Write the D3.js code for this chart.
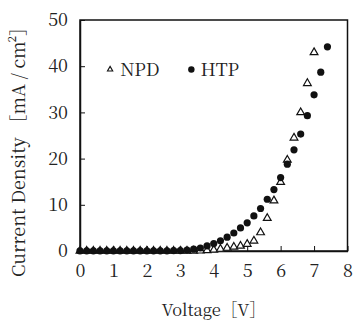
<!DOCTYPE html>
<html>
<head>
<meta charset="utf-8">
<script src="https://cdn.jsdelivr.net/npm/d3@7"></script>
<style>
  body { margin: 0; background: #fff; }
</style>
</head>
<body>
<svg id="chart" width="354" height="321"></svg>
<script>
// voltage steps (V)
const npdVoltage = [0,0.2,0.4,0.6,0.8,1,1.2,1.4,1.6,1.8,2,2.2,2.4,2.6,2.8,3,3.2,3.4,3.6,3.8,4,4.2,4.4,4.6,4.8,5,5.2,5.4,5.6,5.8,6,6.2,6.4,6.6,6.8,7];
const npdCurrent = [0,0,0,0,0,0,0,0,0,0,0,0,0,0,0,0,0.02,0.03,0.05,0.12,0.25,0.43,0.65,0.87,1.1,1.5,2.2,4.0,7.1,10.9,14.9,19.7,24.5,30.0,36.3,43.0];

const htpVoltage = [0,0.2,0.4,0.6,0.8,1,1.2,1.4,1.6,1.8,2,2.2,2.4,2.6,2.8,3,3.2,3.4,3.6,3.8,4,4.2,4.4,4.6,4.8,5,5.2,5.4,5.6,5.8,6,6.2,6.4,6.6,6.8,7,7.2,7.4];
const htpCurrent = [0.02,0.02,0.02,0.02,0.02,0.02,0.02,0.02,0.02,0.02,0.02,0.03,0.03,0.04,0.06,0.1,0.2,0.4,0.65,1.1,1.6,2.2,3.0,3.9,5.0,6.1,7.6,9.2,11.2,13.3,15.9,18.8,21.9,25.3,29.3,33.8,38.7,44.2];

const xTicks = [0,1,2,3,4,5,6,7,8];
const yTicks = [0,10,20,30,40,50];

const serif = "'Noto Serif CJK JP', 'Liberation Serif', 'DejaVu Serif'";

const svg = d3.select("#chart");
const margin = {left: 80, top: 20, right: 6.5, bottom: 70};
const width = 354 - margin.left - margin.right;
const height = 321 - margin.top - margin.bottom;

const g = svg.append("g").attr("transform", `translate(${margin.left},${margin.top})`);

const x = d3.scaleLinear().domain([0, 8]).range([0, width]);
const y = d3.scaleLinear().domain([0, 50]).range([height, 0]);

// frame
g.append("rect")
  .attr("x", 0).attr("y", 0)
  .attr("width", width).attr("height", height)
  .attr("fill", "none").attr("stroke", "#111").attr("stroke-width", 1.5);

// axes, ticks pointing inward
const xAxis = g.append("g")
  .attr("transform", `translate(0,${height})`)
  .call(d3.axisBottom(x).tickValues(xTicks).tickSizeInner(-5).tickSizeOuter(0).tickPadding(13));
const yAxis = g.append("g")
  .call(d3.axisLeft(y).tickValues(yTicks).tickSizeInner(-5).tickSizeOuter(0).tickPadding(12));

[xAxis, yAxis].forEach(a => {
  a.attr("font-family", null).attr("font-size", null);
  a.select(".domain").attr("stroke", "#111").attr("stroke-width", 1.5);
  a.selectAll(".tick line").attr("stroke", "#111").attr("stroke-width", 1);
  a.selectAll(".tick text")
    .style("font-family", serif)
    .style("font-size", "18px").attr("fill", "#222");
});

const npd = npdVoltage.map((v, i) => ({v: v, j: npdCurrent[i]}));
const htp = htpVoltage.map((v, i) => ({v: v, j: htpCurrent[i]}));

const tri = d3.symbol().type(d3.symbolTriangle).size(26);

g.selectAll(".npd")
  .data(npd)
  .enter().append("path")
  .attr("class", "npd")
  .attr("d", tri)
  .attr("transform", d => `translate(${x(d.v)},${y(d.j)})`)
  .attr("fill", "#fff")
  .attr("stroke", "#111")
  .attr("stroke-width", 1.2);

g.selectAll(".htp")
  .data(htp)
  .enter().append("circle")
  .attr("class", "htp")
  .attr("cx", d => x(d.v))
  .attr("cy", d => y(d.j))
  .attr("r", 3.6)
  .attr("fill", "#111");

// legend
const legend = g.append("g").attr("transform", `translate(0,${y(39.3)})`);
legend.append("path")
  .attr("d", d3.symbol().type(d3.symbolTriangle).size(12))
  .attr("transform", `translate(${x(0.9)},0)`)
  .attr("fill", "#fff").attr("stroke", "#111").attr("stroke-width", 1.1);
legend.append("text")
  .attr("x", x(1.2)).attr("y", 6.5)
  .style("font-family", serif).style("font-size", "18px").attr("fill", "#222")
  .text("NPD");
legend.append("circle")
  .attr("cx", x(3.33)).attr("cy", 0).attr("r", 3.2).attr("fill", "#111");
legend.append("text")
  .attr("x", x(3.6)).attr("y", 6.5)
  .style("font-family", serif).style("font-size", "18px").attr("fill", "#222")
  .text("HTP");

// axis titles
svg.append("text")
  .attr("x", margin.left + x(4.0))
  .attr("y", 316)
  .attr("text-anchor", "middle")
  .style("font-family", serif).style("font-size", "16.5px").attr("fill", "#222")
  .text("Voltage［V］");

svg.append("text")
  .attr("transform", `translate(25,${margin.top + height / 2 + 12}) rotate(-90)`)
  .attr("text-anchor", "middle")
  .style("font-family", serif).style("font-size", "18px").attr("fill", "#222")
  .text("Current Density ［mA / cm²］");
</script>
</body>
</html>
